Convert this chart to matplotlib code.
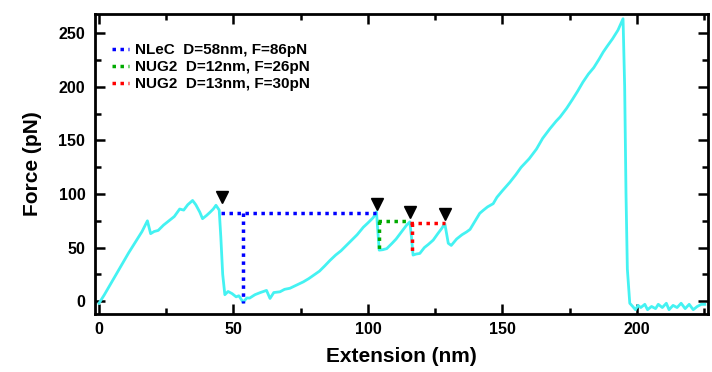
import matplotlib
matplotlib.use("Agg")
import matplotlib.pyplot as plt
from matplotlib.ticker import MultipleLocator

plt.rcParams['font.family'] = ['Liberation Sans', 'DejaVu Sans']
plt.rcParams['font.weight'] = 'bold'

# Force-extension trace (nm, pN)
ext = [0, 2, 5, 8, 11, 14, 16, 18, 19.2, 20.5, 22, 24, 26, 28, 30, 31.5, 33, 34.8, 36, 37.5,
       38.5, 40, 41.3, 42.5, 43.5, 44.7, 45.3, 46, 46.8, 48, 49.5, 51, 52, 53.6, 55, 56, 58, 60,
       62.3, 63.6, 65, 67.3, 69, 71, 73.5, 76, 78, 79.7, 82, 84, 85.9, 88, 90, 92, 94, 96, 98.3,
       100, 102, 103.2, 104.2, 105.5, 107, 109, 110.5, 112, 113.5, 114.4, 115.6, 116.2, 116.8,
       118, 119.3, 121, 122.5, 124.3, 126, 127.5, 128.6, 129.9, 131, 133, 135, 136.7, 138, 140.4,
       141.6, 143, 144.5, 146.6, 148, 150, 152.8, 155, 157, 160, 162.7, 165, 167.7, 170, 171.5,
       173.9, 176, 178, 180, 182, 184, 186, 187.5, 189, 191, 193, 194.9, 195.5, 196, 196.5, 197.4,
       198.5, 199.5, 200.5, 201.5, 203, 204, 205.5, 207, 208, 209.5, 211, 212, 213.5, 215, 216.5,
       218, 219.5, 221, 222.5, 224, 225.3]
force = [-2, 6, 19, 32, 45, 57, 65, 75, 63, 65, 66, 71, 75, 79, 86, 85, 90, 94, 90, 83,
         77, 80, 83, 86, 89.5, 85, 60, 25, 6, 9, 7, 4, 5, -1, 3, 2.8, 6, 8,
         10, 2.5, 8, 8.7, 11, 12, 15, 18, 21, 24, 28, 33, 38, 43, 47, 52, 57, 62, 69,
         73, 78, 83.3, 47.6, 48, 49, 54, 58, 63, 68, 71, 74, 60, 43,
         44, 44.5, 50, 53, 57, 63, 68, 72.5, 54, 52, 58, 62, 64.6, 67, 77,
         82, 85, 88, 91, 97, 103, 111, 118, 125, 133, 142, 152, 161, 168, 172,
         180, 188, 196, 204.6, 212, 218, 226, 232.5, 238, 245, 253, 263.7, 200, 100, 30, -2,
         -5, -8, -4, -6, -3, -8, -5, -7, -3, -6, -2, -8, -4, -6, -2,
         -7, -3, -8, -5, -3, -3]

# Unfolding event markers
marker_x = [45.8, 103.5, 115.6, 128.6]
marker_y = [97.3, 91, 83.3, 81.8]

# Dotted guide lines: (x-list, y-list), None separates segments
nlec_x = [45.2, 103.0, None, 53.4, 53.4]
nlec_y = [82.7, 82.7, None, 82.7, -2]
nug2a_x = [103.8, 115.4, None, 104.2, 104.2]
nug2a_y = [74.6, 74.6, None, 74.6, 48.5]
nug2b_x = [115.6, 128.6, None, 116.5, 116.5]
nug2b_y = [73.4, 73.4, None, 73.4, 46]

labels = ["NLeC  D=58nm, F=86pN", "NUG2  D=12nm, F=26pN", "NUG2  D=13nm, F=30pN"]
colors = ["#0000ff", "#00aa00", "#ff0000"]

fig = plt.figure(figsize=(7.12, 3.72), dpi=100)
ax = fig.add_axes([0.1334, 0.156, 0.861, 0.806])

ax.plot(ext, force, color="#44f2f2", lw=2, zorder=2)

def seg(xs, ys):
    out_x, out_y, cx, cy = [], [], [], []
    for a, b in zip(xs, ys):
        if a is None:
            out_x.append(cx); out_y.append(cy); cx, cy = [], []
        else:
            cx.append(a); cy.append(b)
    out_x.append(cx); out_y.append(cy)
    return out_x, out_y

for (xs, ys), c, lab in zip([(nlec_x, nlec_y), (nug2a_x, nug2a_y), (nug2b_x, nug2b_y)], colors, labels):
    sx, sy = seg(xs, ys)
    for i, (a, b) in enumerate(zip(sx, sy)):
        ax.plot(a, b, color=c, lw=2.5, ls=(0, (1, 1.3)), zorder=3,
                label=lab if i == 0 else None)

ax.plot(marker_x, marker_y, ls='none', marker='v', color='black', markersize=9, zorder=4)

ax.set_xlim(-1.5, 226.5)
ax.set_ylim(-12, 268)
ax.xaxis.set_major_locator(MultipleLocator(50))
ax.xaxis.set_minor_locator(MultipleLocator(25))
ax.yaxis.set_major_locator(MultipleLocator(50))
ax.yaxis.set_minor_locator(MultipleLocator(25))
ax.tick_params(which='both', direction='in', top=True, right=True, width=1.8, labelsize=11.5)
ax.tick_params(axis='x', pad=6)
ax.tick_params(axis='y', pad=7)
ax.tick_params(which='major', length=7)
ax.tick_params(which='minor', length=4.5)
for s in ax.spines.values():
    s.set_linewidth(2)
for t in ax.get_xticklabels() + ax.get_yticklabels():
    t.set_fontweight('bold')

ax.set_xlabel("Extension (nm)", fontsize=15, fontweight='bold', labelpad=7)
ax.set_ylabel("Force (pN)", fontsize=15, fontweight='bold', labelpad=12)

leg = ax.legend(loc='upper left', bbox_to_anchor=(0.005, 0.95), frameon=False,
                handlelength=1.1, handletextpad=0.45, labelspacing=0.2,
                prop={'weight': 'bold', 'size': 11})

fig.savefig("out.png", dpi=100)
